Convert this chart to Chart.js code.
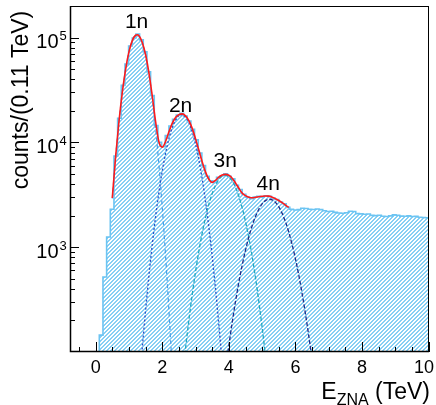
<!DOCTYPE html>
<html>
<head>
<meta charset="utf-8">
<script src="https://cdn.jsdelivr.net/npm/chart.js@4.4.1/dist/chart.umd.min.js"></script>
<style>
  body { margin: 0; background: #fff; }
  canvas { display: block; }
</style>
</head>
<body>
<canvas id="myChart" width="436" height="405"></canvas>
<script>
// histogram: 0.11 TeV bins, first filled bin starts at 0.11 TeV
const binWidth = 0.11
const firstEdge = 0.11
const counts = [
  145, 520, 1250, 2300, 7400, 17000, 35000, 56000, 83000, 99000,
  108000, 95000, 73000, 47000, 28000, 14500, 10000, 9100, 11600, 14300,
  16600, 18200, 18900, 17800, 16000, 13300, 10600, 7900, 6000, 4750,
  4300, 4150, 4650, 4800, 5000, 4750, 4500, 3900, 3550, 3200,
  3000, 2900, 3000, 3050, 3000, 3100, 3050, 2950, 2850, 2700,
  2600, 2400, 2300, 2260, 2280, 2350, 2340, 2300, 2290, 2310,
  2280, 2230, 2190, 2200, 2150, 2120, 2110, 2130, 2200, 2190,
  2090, 2080, 2060, 2070, 2010, 2000, 2020, 1970, 1960, 1990,
  2040, 2020, 1980, 1970, 1990, 1960, 1970, 1930, 1920, 1910
]

// total fit (red)
const fitE = [0.5, 0.6, 0.7, 0.8, 0.9, 1.0, 1.1, 1.2, 1.25, 1.3, 1.4, 1.5, 1.6, 1.7, 1.8, 1.9,
  2.0, 2.1, 2.2, 2.3, 2.4, 2.5, 2.6, 2.7, 2.8, 2.9, 3.0, 3.1, 3.2, 3.3, 3.4, 3.5, 3.6, 3.7,
  3.8, 3.9, 4.0, 4.1, 4.2, 4.3, 4.4, 4.5, 4.6, 4.7, 4.8, 4.9, 5.0, 5.1, 5.2, 5.3, 5.4, 5.5,
  5.6, 5.7, 5.8]
const fitTotal = [2950, 7300, 15800, 29900, 49800, 72900, 93500, 105200, 106200, 103900, 89900,
  68500, 46000, 27700, 15800, 10100, 9000, 10200, 12600, 15200, 17300, 18400, 18700, 17900,
  16100, 13600, 10800, 8400, 6500, 5200, 4450, 4150, 4350, 4650, 4880, 4950, 4850, 4550, 4100,
  3650, 3280, 3100, 3000, 2960, 2990, 3030, 3060, 3080, 3070, 3000, 2900, 2790, 2660, 2520, 2400]

// single neutron components
const n1E = [0.5, 0.6, 0.7, 0.8, 0.9, 1.0, 1.1, 1.2, 1.3, 1.4, 1.5, 1.6, 1.7, 1.8, 1.9, 2.0, 2.1, 2.2, 2.3, 2.4]
const n1 = [2917, 7228, 15670, 29800, 49720, 72750, 93340, 105000, 103700, 89750, 68130, 45350,
  26490, 13560, 6089, 2398, 828, 251, 67, 16]
const n2E = [1.3, 1.4, 1.5, 1.6, 1.7, 1.8, 1.9, 2.0, 2.1, 2.2, 2.3, 2.4, 2.5, 2.6, 2.7, 2.8, 2.9,
  3.0, 3.1, 3.2, 3.3, 3.4, 3.5, 3.6, 3.7, 3.8, 3.9]
const n2 = [44, 109, 250, 535, 1061, 1958, 3350, 5330, 7880, 10810, 13800, 16330, 17990, 18370,
  17460, 15420, 12620, 9610, 6800, 4470, 2730, 1546, 815, 398, 181, 77, 30]
const n3E = [2.6, 2.7, 2.8, 2.9, 3.0, 3.1, 3.2, 3.3, 3.4, 3.5, 3.6, 3.7, 3.8, 3.9, 4.0, 4.1, 4.2,
  4.3, 4.4, 4.5, 4.6, 4.7, 4.8, 4.9, 5.0, 5.1, 5.2]
const n3 = [56, 109, 202, 353, 585, 918, 1365, 1923, 2567, 3248, 3892, 4421, 4755, 4853, 4688,
  4285, 3720, 3057, 2380, 1756, 1227, 813, 511, 303, 171, 91, 46]
const n4E = [3.9, 4.0, 4.1, 4.2, 4.3, 4.4, 4.5, 4.6, 4.7, 4.8, 4.9, 5.0, 5.1, 5.2, 5.3, 5.4, 5.5,
  5.6, 5.7, 5.8, 5.9, 6.0, 6.1, 6.2, 6.3, 6.4, 6.5, 6.6]
const n4 = [67, 115, 191, 304, 462, 672, 938, 1252, 1602, 1962, 2301, 2586, 2782, 2868, 2831,
  2677, 2424, 2102, 1746, 1389, 1058, 772, 540, 361, 231, 142, 84, 47]

const xTickLabels = [0, 2, 4, 6, 8, 10]
const yTickExps = [3, 4, 5]
const peakNames = ['1n', '2n', '3n', '4n']

const xMin = -0.77, xMax = 10.01
const yMin = 100, yMax = 200000
const font = '"Liberation Sans", Arial, sans-serif'
const histColor = '#6cc4f2'

// 4x4 tile, two pixels per row lit: a "/" hatch with 4 px period
function hatch(color) {
  const c = document.createElement('canvas')
  c.width = 4
  c.height = 4
  const g = c.getContext('2d')
  g.fillStyle = color
  for (let py = 0; py < 4; py++) {
    for (let px = 0; px < 4; px++) {
      if ((px + py) % 4 < 2) g.fillRect(px, py, 1, 1)
    }
  }
  return g.createPattern(c, 'repeat')
}

function pairs(xs, ys) {
  return xs.map((x, i) => ({ x: x, y: ys[i] }))
}

// stepped outline: one point per bin left edge, plus closing edges
const histPoints = [{ x: firstEdge, y: yMin }]
counts.forEach((c, i) => histPoints.push({ x: firstEdge + i * binWidth, y: c }))
histPoints.push({ x: firstEdge + counts.length * binWidth, y: counts[counts.length - 1] })

function curve(xs, ys, color, dash, width, order) {
  return {
    data: pairs(xs, ys),
    borderColor: color,
    borderWidth: width,
    borderDash: dash,
    pointRadius: 0,
    fill: false,
    cubicInterpolationMode: 'monotone',
    order: order
  }
}

// ROOT style frame, inward ticks and labels
const rootAxes = {
  id: 'rootAxes',
  afterDraw(chart) {
    const { ctx, chartArea: a, scales } = chart
    const x = scales.x, y = scales.y
    ctx.save()
    ctx.strokeStyle = '#000'
    ctx.lineWidth = 1
    ctx.strokeRect(a.left + 0.5, a.top + 0.5, a.right - a.left - 1, a.bottom - a.top - 1)
    ctx.lineWidth = 1.5
    ctx.beginPath()
    ctx.moveTo(a.left + 0.5, a.top)
    ctx.lineTo(a.left + 0.5, a.bottom - 0.5)
    ctx.lineTo(a.right, a.bottom - 0.5)
    ctx.stroke()

    ctx.lineWidth = 1
    ctx.beginPath()
    for (let v = -0.5; v <= xMax + 1e-6; v += 0.5) {
      const px = Math.round(x.getPixelForValue(v)) + 0.5
      const len = Math.abs(v / 2 - Math.round(v / 2)) < 1e-6 ? 10 : 5
      ctx.moveTo(px, a.bottom)
      ctx.lineTo(px, a.bottom - len)
    }
    for (let d = 2; d <= 5; d++) {
      for (let m = 1; m <= 9; m++) {
        const v = m * Math.pow(10, d)
        if (v <= yMin || v >= yMax) continue
        const py = Math.round(y.getPixelForValue(v)) + 0.5
        ctx.moveTo(a.left, py)
        ctx.lineTo(a.left + (m === 1 ? 9 : 5), py)
      }
    }
    ctx.stroke()

    ctx.fillStyle = '#000'
    ctx.font = '18px ' + font
    ctx.textAlign = 'center'
    ctx.textBaseline = 'alphabetic'
    xTickLabels.forEach(v => {
      let px = x.getPixelForValue(v)
      const w = ctx.measureText(String(v)).width
      px = Math.min(px, chart.width - 2 - w / 2)
      ctx.fillText(String(v), px, a.bottom + 21)
    })

    yTickExps.forEach(e => {
      const py = y.getPixelForValue(Math.pow(10, e))
      ctx.font = '20px ' + font
      ctx.textAlign = 'right'
      ctx.fillText('10', a.left - 11.5, py + 10.5)
      ctx.font = '13px ' + font
      ctx.textAlign = 'left'
      ctx.fillText(String(e), a.left - 10.5, py + 2.5)
    })

    // x title with subscript, right aligned to the frame
    ctx.textAlign = 'left'
    ctx.font = '23px ' + font
    const wE = ctx.measureText('E').width
    const wRest = ctx.measureText(' (TeV)').width
    ctx.font = '16px ' + font
    const wSub = ctx.measureText('ZNA').width
    let tx = a.right + 1 - (wE + wSub + wRest)
    ctx.font = '23px ' + font
    ctx.fillText('E', tx, 398.5)
    ctx.font = '16px ' + font
    ctx.fillText('ZNA', tx + wE, 405)
    ctx.font = '23px ' + font
    ctx.fillText(' (TeV)', tx + wE + wSub, 398.5)

    ctx.save()
    ctx.translate(28, 100)
    ctx.rotate(-Math.PI / 2)
    ctx.textAlign = 'center'
    ctx.fillText('counts/(0.11 TeV)', 0, 0)
    ctx.restore()

    // peak names, anchored to the fit peaks
    const spots = [[1.23, 123800], [2.55, 19550], [3.89, 5840], [5.18, 3520]]
    ctx.font = '21px ' + font
    ctx.textAlign = 'center'
    peakNames.forEach((t, i) => {
      ctx.fillText(t, x.getPixelForValue(spots[i][0]), y.getPixelForValue(spots[i][1]))
    })
    ctx.restore()
  }
}

const ctx = document.getElementById('myChart').getContext('2d')
const myChart = new Chart(ctx, {
  type: 'line',
  data: {
    datasets: [
      {
        data: histPoints,
        stepped: true,
        borderColor: histColor,
        borderWidth: 1.6,
        backgroundColor: hatch('#86cff4'),
        fill: 'start',
        pointRadius: 0,
        order: 10
      },
      curve(n1E, n1, '#4a9fe6', [4, 3], 1.2, 5),
      curve(n2E, n2, '#2a4fc4', [2, 2], 1.3, 4),
      curve(n3E, n3, '#22a8c0', [4, 2], 1.3, 3),
      curve(n4E, n4, '#1f2a86', [4, 2], 1.3, 2),
      curve(fitE, fitTotal, '#ff1a1a', [], 1.6, 1)
    ]
  },
  options: {
    responsive: false,
    animation: false,
    devicePixelRatio: 1,
    layout: { padding: { left: 70, top: 6, right: 7, bottom: 53 } },
    scales: {
      x: { type: 'linear', min: xMin, max: xMax, display: false },
      y: { type: 'logarithmic', min: yMin, max: yMax, display: false }
    },
    plugins: {
      legend: { display: false },
      tooltip: { enabled: false }
    }
  },
  plugins: [rootAxes]
})
</script>
</body>
</html>
